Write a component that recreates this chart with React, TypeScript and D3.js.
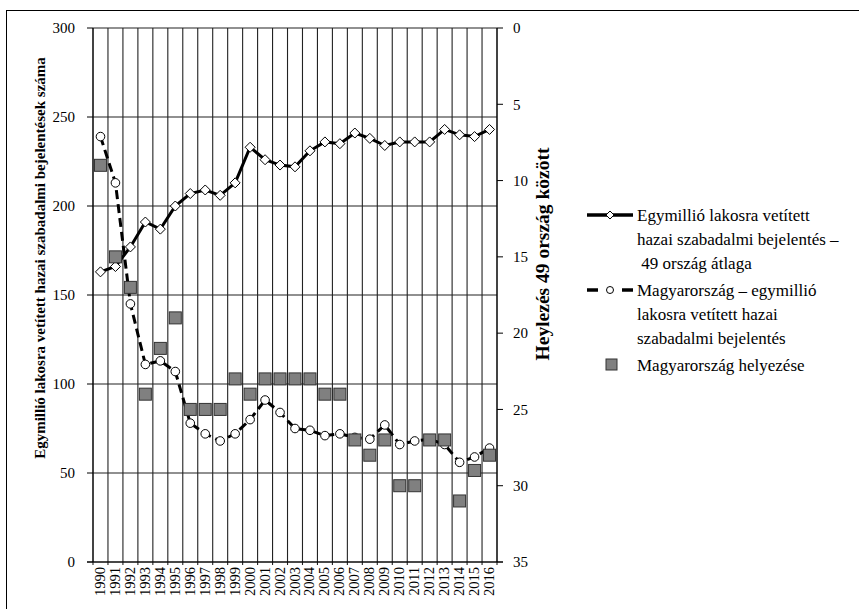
import React from "react";
import * as d3 from "d3";

const years = [
  "1990", "1991", "1992", "1993", "1994", "1995", "1996", "1997", "1998",
  "1999", "2000", "2001", "2002", "2003", "2004", "2005", "2006", "2007",
  "2008", "2009", "2010", "2011", "2012", "2013", "2014", "2015", "2016",
];

// 49 country average, patent applications per million inhabitants
const avg49 = [
  163, 166, 177, 191, 187, 200, 207, 209, 206, 213, 233, 226, 223, 222, 231,
  236, 235, 241, 238, 234, 236, 236, 236, 243, 240, 239, 243,
];

// Hungary, patent applications per million inhabitants
const hungary = [
  239, 213, 145, 111, 113, 107, 78, 72, 68, 72, 80, 91, 84, 75, 74, 71, 72, 70,
  69, 77, 66, 68, 69, 66, 56, 59, 64,
];

// Hungary's rank among 49 countries (right axis)
const rank = [
  9, 15, 17, 24, 21, 19, 25, 25, 25, 23, 24, 23, 23, 23, 23, 24, 24, 27, 28,
  27, 30, 30, 27, 27, 31, 29, 28,
];

const leftTicks = [0, 50, 100, 150, 200, 250, 300];
const rightTicks = [0, 5, 10, 15, 20, 25, 30, 35];

const legendItems = [
  ["Egymillió lakosra vetített", "hazai szabadalmi bejelentés –", " 49 ország átlaga"],
  ["Magyarország – egymillió", "lakosra vetített hazai", "szabadalmi bejelentés"],
  ["Magyarország helyezése"],
];

const W = 859;
const H = 609;
const plot = { left: 93, right: 497, top: 28, bottom: 562 };
const font = "Liberation Serif";

const App: React.FC = () => {
  const x = d3
    .scaleBand<string>()
    .domain(years)
    .range([plot.left, plot.right])
    .padding(0);
  const bw = x.bandwidth();
  const cx = (y: string) => x(y)! + bw / 2;

  const yL = d3.scaleLinear().domain([0, 300]).range([plot.bottom, plot.top]);
  const yR = d3.scaleLinear().domain([0, 35]).range([plot.top, plot.bottom]);

  const line = d3
    .line<number>()
    .x((_, i) => cx(years[i]))
    .y((d) => yL(d));

  const diamond = (px: number, py: number, r: number) =>
    `M${px},${py - r}L${px + r},${py}L${px},${py + r}L${px - r},${py}Z`;

  const sq = 12;

  return (
    <svg
      width={W}
      height={H}
      style={{ position: "absolute", left: 0, top: 0, background: "white", fontFamily: font }}
    >
      <rect x={0} y={0} width={W} height={H} fill="white" />
      {/* outer frame */}
      <rect x={6.5} y={10.5} width={W + 10} height={H + 10} fill="none" stroke="black" strokeWidth={1} />

      {/* vertical grid lines between categories */}
      {d3.range(years.length + 1).map((i) => {
        const gx = plot.left + i * bw;
        return (
          <line
            key={"v" + i}
            x1={gx}
            x2={gx}
            y1={plot.top}
            y2={plot.bottom + 3}
            stroke="#222"
            strokeWidth={1.1}
          />
        );
      })}

      {/* horizontal grid lines */}
      {leftTicks.map((t) => (
        <line
          key={"h" + t}
          x1={plot.left}
          x2={plot.right}
          y1={yL(t)}
          y2={yL(t)}
          stroke="#222"
          strokeWidth={1.1}
        />
      ))}

      {/* left axis */}
      <line x1={plot.left} x2={plot.left} y1={plot.top} y2={plot.bottom} stroke="black" />
      {leftTicks.map((t) => (
        <g key={"lt" + t}>
          <line x1={plot.left - 6} x2={plot.left} y1={yL(t)} y2={yL(t)} stroke="black" />
          <text x={75} y={yL(t)} dy="0.35em" textAnchor="end" fontSize={15} fontFamily={font}>
            {t}
          </text>
        </g>
      ))}

      {/* right axis */}
      <line x1={plot.right} x2={plot.right} y1={plot.top} y2={plot.bottom} stroke="black" />
      {rightTicks.map((t) => (
        <g key={"rt" + t}>
          <line x1={plot.right} x2={plot.right + 6} y1={yR(t)} y2={yR(t)} stroke="black" />
          <text x={513} y={yR(t)} dy="0.35em" textAnchor="start" fontSize={15} fontFamily={font}>
            {t}
          </text>
        </g>
      ))}

      {/* x axis */}
      <line x1={plot.left - 6} x2={plot.right + 6} y1={plot.bottom} y2={plot.bottom} stroke="black" />
      {years.map((yr) => (
        <text
          key={"xl" + yr}
          transform={`translate(${cx(yr) + 4.5},${plot.bottom + 5}) rotate(-90)`}
          textAnchor="end"
          fontSize={14.5}
          fontFamily={font}
        >
          {yr}
        </text>
      ))}

      {/* axis titles */}
      <text
        transform={`translate(45,258) rotate(-90)`}
        textAnchor="middle"
        fontSize={15}
        fontWeight="bold"
        fontFamily={font}
      >
        Egymillió lakosra vetített hazai szabadalmi bejelentések száma
      </text>
      <text
        transform={`translate(549,254) rotate(-90)`}
        textAnchor="middle"
        fontSize={19.5}
        fontWeight="bold"
        fontFamily={font}
      >
        Heylezés 49 ország között
      </text>

      {/* 49 country average */}
      <path d={line(avg49)!} fill="none" stroke="black" strokeWidth={3} />
      {avg49.map((v, i) => (
        <path
          key={"d" + i}
          d={diamond(cx(years[i]), yL(v), 5)}
          fill="white"
          stroke="black"
          strokeWidth={1}
        />
      ))}

      {/* Hungary */}
      <path
        d={line(hungary)!}
        fill="none"
        stroke="black"
        strokeWidth={3}
        strokeDasharray="9,5"
      />
      {hungary.map((v, i) => (
        <circle
          key={"c" + i}
          cx={cx(years[i])}
          cy={yL(v)}
          r={4.3}
          fill="white"
          stroke="black"
          strokeWidth={1}
        />
      ))}

      {/* Hungary rank */}
      {rank.map((v, i) => (
        <rect
          key={"s" + i}
          x={cx(years[i]) - sq / 2}
          y={yR(v) - sq / 2}
          width={sq}
          height={sq}
          fill="#808080"
          stroke="#333"
          strokeWidth={1}
        />
      ))}

      {/* legend */}
      <g fontSize={17} fontFamily={font}>
        <line x1={587} x2={633} y1={215} y2={215} stroke="black" strokeWidth={3.5} />
        <path d={diamond(610, 215, 4)} fill="white" stroke="black" />
        {legendItems[0].map((t, i) => (
          <text key={"l0" + i} x={637} y={215 + i * 24} dy="0.35em" style={{ whiteSpace: "pre" }}>
            {t}
          </text>
        ))}

        <line x1={587} x2={598} y1={290} y2={290} stroke="black" strokeWidth={3.5} />
        <line x1={622} x2={633} y1={290} y2={290} stroke="black" strokeWidth={3.5} />
        <circle cx={610} cy={290} r={3.5} fill="white" stroke="black" />
        {legendItems[1].map((t, i) => (
          <text key={"l1" + i} x={637} y={290 + i * 24} dy="0.35em">
            {t}
          </text>
        ))}

        <rect x={606} y={359} width={11} height={11} fill="#808080" stroke="#333" />
        {legendItems[2].map((t, i) => (
          <text key={"l2" + i} x={637} y={365 + i * 24} dy="0.35em">
            {t}
          </text>
        ))}
      </g>
    </svg>
  );
};

export default App;
